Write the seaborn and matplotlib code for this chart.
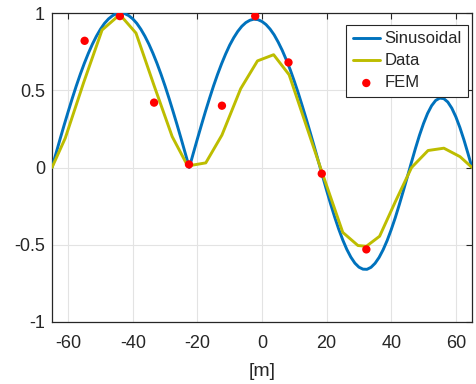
import matplotlib
matplotlib.use("Agg")
import matplotlib.pyplot as plt
import seaborn as sns
import pandas as pd
import numpy as np

# ---- data ----
sin_x = np.linspace(-65, 65, 105)  # sampling grid every 1.25 m
sin_y = [0, 0.092, 0.184, 0.274, 0.361, 0.446, 0.527, 0.603, 0.674, 0.739,
         0.798, 0.850, 0.895, 0.933, 0.962, 0.983, 0.996, 1.0, 0.996, 0.983,
         0.962, 0.933, 0.895, 0.850, 0.798, 0.739, 0.674, 0.603, 0.527, 0.446,
         0.361, 0.274, 0.184, 0.092, 0,
         0.093, 0.185, 0.275, 0.363, 0.447, 0.528, 0.603, 0.672, 0.735, 0.792,
         0.840, 0.881, 0.914, 0.938, 0.953, 0.960, 0.957, 0.945, 0.925, 0.896,
         0.859, 0.812, 0.759, 0.698, 0.632, 0.558, 0.480, 0.396, 0.310, 0.221,
         0.130, 0.037,
         -0.056, -0.148, -0.237, -0.321, -0.399, -0.469, -0.530, -0.580,
         -0.619, -0.645, -0.658, -0.659, -0.646, -0.620, -0.582, -0.532,
         -0.472, -0.402, -0.325, -0.240, -0.151, -0.060,
         0.033, 0.124, 0.209, 0.285, 0.350, 0.400, 0.434, 0.449, 0.446, 0.424,
         0.384, 0.328, 0.259, 0.179, 0.091, 0]

data_x = [-65, -60.9, -55.2, -49.5, -44.0, -39.0, -33.4, -27.8, -23.0, -17.4,
          -12.4, -6.6, -1.4, 3.6, 8.4, 13.4, 18.4, 25.0, 29.7, 32.3, 36.4, 41.3,
          46.3, 51.4, 56.3, 61.3, 65]
data_y = [0, 0.19, 0.55, 0.89, 0.99, 0.87, 0.53, 0.20, 0.01, 0.03, 0.21, 0.51,
          0.69, 0.73, 0.60, 0.29, -0.02, -0.42, -0.505, -0.51, -0.445, -0.22,
          0.0, 0.11, 0.125, 0.07, 0]

fem_x = [-54.9, -44.0, -33.4, -22.6, -12.4, -2.1, 8.2, 18.5, 32.3]
fem_y = [0.82, 0.98, 0.42, 0.02, 0.40, 0.98, 0.68, -0.04, -0.53]

x_ticks = [-60, -40, -20, 0, 20, 40, 60]
y_ticks = [-1, -0.5, 0, 0.5, 1]
y_tick_labels = ["-1", "-0.5", "0", "0.5", "1"]
x_label = "[m]"
labels = ["Sinusoidal", "Data", "FEM"]

# ---- style ----
sns.set_style("white")
plt.rcParams["font.family"] = ["Liberation Sans", "DejaVu Sans"]

BLUE = "#0072BD"
OLIVE = "#BDBD00"
RED = "#FF0000"
DARK = "#262626"

fig = plt.figure(figsize=(4.76, 3.84), dpi=100)
ax = fig.add_axes([52 / 476, 1 - 322 / 384, (472 - 52) / 476, (322 - 13) / 384])

df_sin = pd.DataFrame({"x": sin_x, "y": sin_y})
df_dat = pd.DataFrame({"x": data_x, "y": data_y})
df_fem = pd.DataFrame({"x": fem_x, "y": fem_y})

sns.lineplot(data=df_sin, x="x", y="y", ax=ax, color=BLUE, lw=2.1, sort=False,
             label=labels[0], zorder=3)
sns.lineplot(data=df_dat, x="x", y="y", ax=ax, color=OLIVE, lw=2.1, sort=False,
             label=labels[1], zorder=3)
sns.scatterplot(data=df_fem, x="x", y="y", ax=ax, color=RED, s=36,
                edgecolor="none", label=labels[2], zorder=4)

ax.set_xlim(-65, 65)
ax.set_ylim(-1, 1)
ax.set_xticks(x_ticks)
ax.set_xticklabels([str(t) for t in x_ticks])
ax.set_yticks(y_ticks)
ax.set_yticklabels(y_tick_labels)
ax.set_xlabel(x_label, fontsize=14, color=DARK, labelpad=8)
ax.set_ylabel("")

ax.grid(True, color="#e3e3e3", lw=0.8)
ax.set_axisbelow(True)
for s in ax.spines.values():
    s.set_visible(True)
    s.set_color(DARK)
    s.set_linewidth(0.9)

ax.tick_params(axis="both", direction="in", length=4, width=0.8, color=DARK,
               labelcolor=DARK, labelsize=13, top=True, right=True)
ax.tick_params(axis="x", pad=9)
ax.tick_params(axis="y", pad=5)

leg = ax.legend(loc="upper right", bbox_to_anchor=(0.990, 0.961), fontsize=12,
                frameon=True, fancybox=False, framealpha=1, edgecolor=DARK,
                handlelength=1.65, handletextpad=0.25, borderpad=0.38,
                labelspacing=0.42, borderaxespad=0.0)
leg.get_frame().set_linewidth(0.8)

fig.savefig("out.png", dpi=100)
